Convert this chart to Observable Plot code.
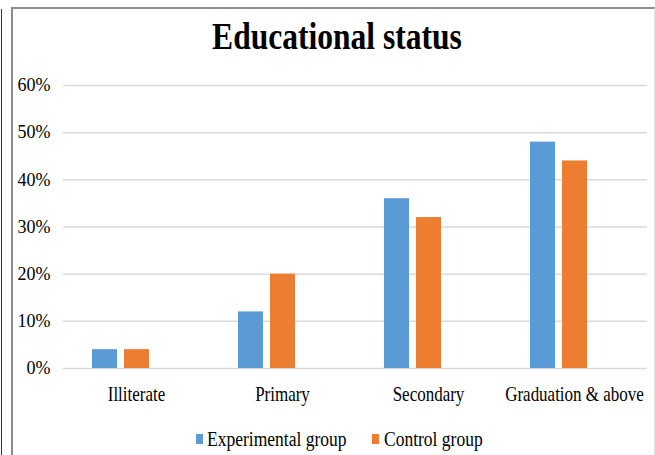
<!DOCTYPE html>
<html>
<head>
<meta charset="utf-8">
<script src="https://cdn.jsdelivr.net/npm/d3@7"></script>
<script src="https://cdn.jsdelivr.net/npm/@observablehq/plot@0.6"></script>
<style>
  html, body { margin: 0; padding: 0; background: #fff; }
  body { width: 655px; height: 455px; overflow: hidden; position: relative; font-family: "Liberation Serif", "Times New Roman", "DejaVu Serif", serif; color: #000; }
  #edge { position: absolute; left: 1px; top: 9px; width: 1px; height: 446px; background: #333; }
  #frame { position: absolute; left: 11px; top: 7px; width: 641px; height: 460px; border-left: 2px solid #8c8c8c; border-top: 2px solid #8c8c8c; border-right: 1px solid #e0e0e0; }
  #title { position: absolute; left: 0; top: 0; width: 655px; height: 62px; }
  #title span { position: absolute; left: 337px; top: 17px; font-size: 38px; line-height: 38px; font-weight: bold; white-space: nowrap; transform: translateX(-50%) scaleX(0.83); transform-origin: center; }
  #chart { position: absolute; left: 0; top: 62px; }
  #legend { position: absolute; left: 0; top: 422px; width: 655px; height: 33px; }
  .sw { position: absolute; width: 7px; height: 10px; top: 12px; }
  .lt { position: absolute; top: 7px; font-size: 20px; line-height: 20px; white-space: nowrap; transform: scaleX(0.875); transform-origin: left center; }
</style>
</head>
<body>
<div id="edge"></div>
<div id="frame"></div>
<div id="title"><span>Educational status</span></div>
<div id="chart"></div>
<div id="legend"></div>
<script>
const categories = ["Illiterate", "Primary", "Secondary", "Graduation & above"];
const groups = ["Experimental group", "Control group"];
const colors = ["#5B9BD5", "#ED7D31"];
const experimental = [0.04, 0.12, 0.36, 0.48];
const control = [0.04, 0.20, 0.32, 0.44];
const yTicks = [0, 0.1, 0.2, 0.3, 0.4, 0.5, 0.6];
const yTickLabels = ["0%", "10%", "20%", "30%", "40%", "50%", "60%"];

const rows = categories.flatMap((c, i) => [
  {category: c, group: groups[0], value: experimental[i]},
  {category: c, group: groups[1], value: control[i]}
]);

const chart = Plot.plot({
  width: 655,
  height: 360,
  marginLeft: 62,
  marginRight: 7,
  marginTop: 23,
  marginBottom: 54,
  style: {fontFamily: "'Liberation Serif', 'Times New Roman', 'DejaVu Serif', serif", fontSize: "18px", color: "#000", background: "transparent"},
  fx: {domain: categories, padding: 0},
  x: {domain: [...groups, " "], paddingInner: 0.23, paddingOuter: 0.87},
  y: {domain: [0, 0.6]},
  color: {domain: groups, range: colors},
  marks: [
    Plot.ruleY(yTicks, {stroke: "#d9d9d9", strokeWidth: 1.5}),
    Plot.barY(rows, {fx: "category", x: "group", y: "value", fill: "group"}),
    Plot.axisY({ticks: yTicks, tickFormat: (d) => yTickLabels[yTicks.indexOf(d)], tickSize: 0, tickPadding: 13, label: null, fontSize: 18, fill: "#000"}),
    Plot.axisX({ticks: [], label: null}),
    Plot.axisFx({anchor: "bottom", tickSize: 0, tickPadding: 18, label: null, fontSize: 20, fill: "#000"})
  ]
});
document.getElementById("chart").appendChild(chart);

// horizontally condense category labels like the reference's narrow serif
d3.select(chart).selectAll('g[aria-label="fx-axis tick label"] text').each(function() {
  const t = this.getAttribute("transform");
  if (t) {
    this.setAttribute("transform", t + " scale(0.85,1)");
  } else {
    const x = +this.getAttribute("x") || 0;
    this.setAttribute("transform", `translate(${x},0) scale(0.85,1) translate(${-x},0)`);
  }
});

const legend = document.getElementById("legend");
const swX = [196, 372];
const txX = [207, 384];
groups.forEach((g, i) => {
  const sw = document.createElement("div");
  sw.className = "sw";
  sw.style.left = swX[i] + "px";
  sw.style.background = colors[i];
  legend.appendChild(sw);
  const tx = document.createElement("div");
  tx.className = "lt";
  tx.style.left = txX[i] + "px";
  tx.textContent = g;
  legend.appendChild(tx);
});
</script>
</body>
</html>
